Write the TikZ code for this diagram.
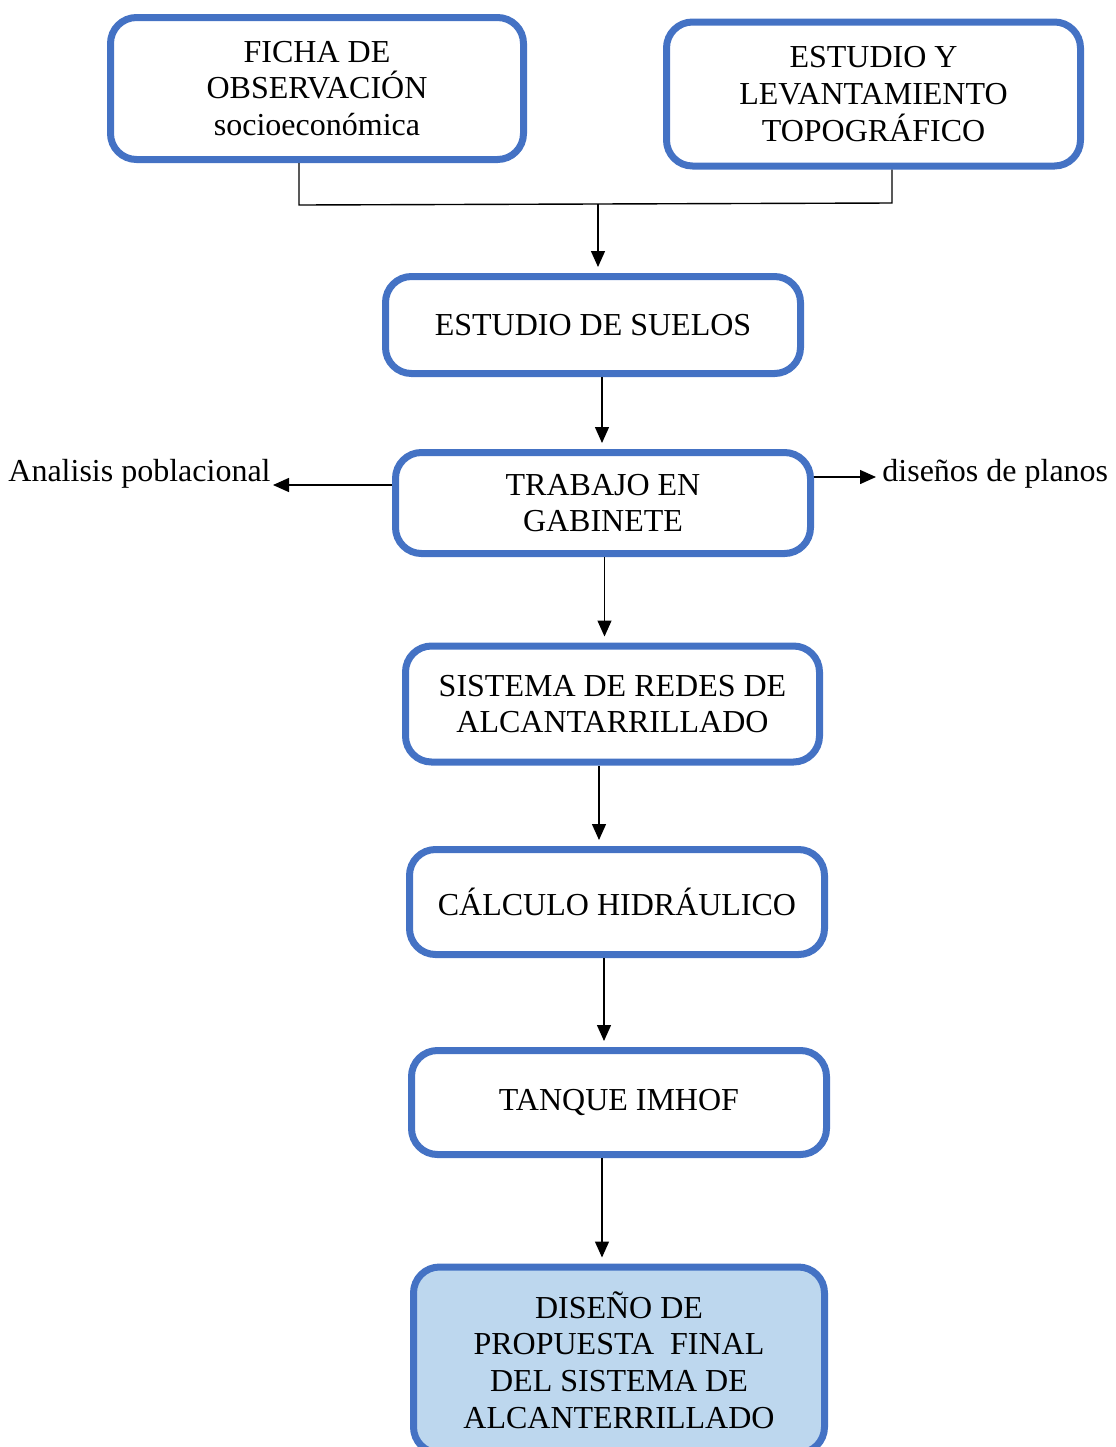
\documentclass[tikz,border=0pt]{standalone}
\usepackage{fontspec}
\setmainfont{Liberation Serif}
\usetikzlibrary{arrows.meta}
\definecolor{boxblue}{HTML}{4472C4}
\definecolor{finalblue}{HTML}{BDD7EE}
\begin{document}
\begin{tikzpicture}[
    x=0.5pt, y=-0.5pt,
    stage/.style={draw=boxblue, line width=3.5pt, rounded corners=13pt, minimum width=207.5pt, align=center, inner sep=2pt, font=\fontsize{16}{18.4}\selectfont},
    sidenote/.style={inner sep=0pt, font=\fontsize{16}{18.4}\selectfont},
    connection/.style={-{Triangle[length=8pt,width=7pt]}, line width=0.7pt, shorten >=3pt}
  ]
    \useasboundingbox (0,0) rectangle (1115,1447);

    % Top boxes
    \node[stage, minimum width=206.5pt, minimum height=71pt] (ficha) at (317,88.5) {FICHA DE\\OBSERVACIÓN\\socioeconómica};
    \node[stage, minimum width=207pt, minimum height=72pt] (levantamiento) at (873.5,94) {ESTUDIO Y\\LEVANTAMIENTO\\TOPOGRÁFICO};

    % Main chain
    \node[stage, minimum height=48.5pt] (suelos) at (593,325) {ESTUDIO DE SUELOS};
    \node[stage, minimum height=50.5pt] (gabinete) at (603,503) {TRABAJO EN\\GABINETE};
    \node[stage, minimum width=207pt, minimum height=58pt] (redes) at (612.5,704) {SISTEMA DE REDES DE\\ALCANTARRILLADO};
    \node[stage, minimum height=52.5pt] (calculo) at (617,902) {CÁLCULO HIDRÁULICO};
    \node[stage, minimum height=52pt] (tanque) at (619,1102.5) {TANQUE IMHOF};
    \node[stage, fill=finalblue, minimum width=205.5pt, minimum height=93pt] (propuesta) at (619,1360) {DISEÑO DE\\PROPUESTA\ \ FINAL\\DEL SISTEMA DE\\ALCANTERRILLADO};

    % Side notes
    \node[sidenote, anchor=east] (analisis) at (271,474) {Analisis poblacional};
    \node[sidenote, anchor=west] (planos) at (882,474) {diseños de planos};

    % Joining the top boxes
    \coordinate (joinleft) at (299,205);
    \coordinate (joinright) at (892,203);
    \coordinate (joinmid) at (598,204);
    \draw[line width=0.7pt] (ficha.south -| joinleft) -- (joinleft) -- (joinright) -- (levantamiento.south -| joinright);
    \draw[connection] (joinmid) -- (joinmid |- suelos.north);

    % Connections
    \foreach \a/\b/\dx in {suelos/gabinete/4.5, gabinete/redes/0.75, redes/calculo/-6.75, calculo/tanque/-6.5, tanque/propuesta/-8.5}
      \draw[connection] ([xshift=\dx pt]\a.south) -- ([xshift=\dx pt]\a.south |- \b.north);

    \draw[connection, shorten >=1pt] ([yshift=9pt]gabinete.west) -- ([yshift=9pt]gabinete.west -| analisis.east);
    \draw[connection] ([yshift=13pt]gabinete.east) -- ([yshift=13pt]gabinete.east -| planos.west);

  \end{tikzpicture}
\end{document}
